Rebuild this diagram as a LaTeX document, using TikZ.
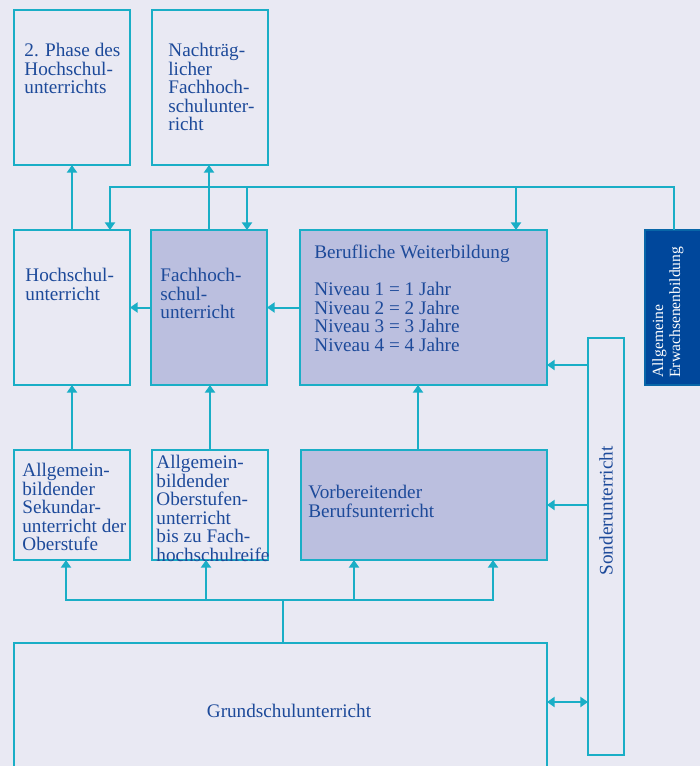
\documentclass[tikz,border=0pt]{standalone}
\usepackage{fontspec}
\setmainfont{Liberation Serif}
\usepackage{tikz}
\usetikzlibrary{positioning}
\usetikzlibrary{calc,arrows.meta}
\definecolor{bgc}{HTML}{E9E9F3}
\definecolor{linec}{HTML}{1AAEC6}
\definecolor{fillc}{HTML}{BBBFDF}
\definecolor{textc}{HTML}{1D4A9A}
\definecolor{darkc}{HTML}{00479B}
\tikzstyle{box} = [rectangle, draw=linec, line width=1pt, anchor=north west, inner sep=0pt, outer sep=0pt]
\tikzstyle{filled} = [box, fill=fillc]
\tikzstyle{txt} = [anchor=north west, align=left, text=textc, inner sep=0pt, font=\fontsize{9.6}{9.25}\selectfont]
\tikzstyle{line} = [draw=linec, line width=1pt]
\tikzstyle{arrow} = [line, -{Triangle[width=5pt,length=3.8pt]}]
\tikzstyle{dblarrow} = [line, {Triangle[width=5pt,length=3.8pt]}-{Triangle[width=5pt,length=3.8pt]}]

\begin{document}
\begin{tikzpicture}[x=0.5pt,y=-0.5pt]
			\clip (0,0) rectangle (700,766);
			\fill[bgc] (0,0) rectangle (700,766);
			% boxes
			\node (phase2) [box, minimum width=58pt, minimum height=77.5pt] at (14,10) {};
			\node (nfh) [box, minimum width=58pt, minimum height=77.5pt] at (152,10) {};
			\node (hsu) [box, minimum width=58pt, minimum height=77.5pt] at (14,230) {};
			\node (fhs) [filled, minimum width=58pt, minimum height=77.5pt] at (151,230) {};
			\node (bwb) [filled, minimum width=123.5pt, minimum height=77.5pt] at (300,230) {};
			\node (aeb) [box, fill=darkc, draw=darkc!70!linec, minimum width=29pt, minimum height=77.5pt] at (645,230) {};
			\node (asu) [box, minimum width=58pt, minimum height=55pt] at (14,450) {};
			\node (aou) [box, line width=0.75pt, minimum width=58pt, minimum height=55pt] at (152,450) {};
			\node (vbu) [filled, minimum width=123pt, minimum height=55pt] at (301,450) {};
			\node (sond) [box, minimum width=18pt, minimum height=208.5pt] at (588,338) {};
			\node (grund) [box, minimum width=266.5pt, minimum height=70pt] at (14,643) {};
			% texts
			\node (phase2-t) [txt] at (24,43) {2. Phase des\\Hochschul-\\unterrichts};
			\node (nfh-t) [txt] at (168,43) {Nachträg-\\licher\\Fachhoch-\\schulunter-\\richt};
			\node (hsu-t) [txt] at (25,268) {Hochschul-\\unterricht};
			\node (fhs-t) [txt] at (160,268) {Fachhoch-\\schul-\\unterricht};
			\node (bwb-t) [txt] at (314,245) {Berufliche Weiterbildung\\[9.25pt]Niveau 1 = 1 Jahr\\Niveau 2 = 2 Jahre\\Niveau 3 = 3 Jahre\\Niveau 4 = 4 Jahre};
			\node (aeb-t) [txt, text=white, rotate=90, font=\fontsize{7.8}{8.5}\selectfont] at (652,378) {Allgemeine\\Erwachsenenbildung};
			\node (asu-t) [txt] at (22,463) {Allgemein-\\bildender\\Sekundar-\\unterricht der\\Oberstufe};
			\node (aou-t) [txt] at (156,455) {Allgemein-\\bildender\\Oberstufen-\\unterricht\\bis zu Fach-\\hochschulreife};
			\node (vbu-t) [txt] at (308,485) {Vorbereitender\\Berufsunterricht};
			\node (sond-t) [txt, anchor=east, rotate=90] at (606,446) {Sonderunterricht};
			\node (grund-t) [txt, anchor=center] at (289,711) {Grundschulunterricht};
			% upper level
			\draw [arrow] (hsu.north) -- (phase2.south);
			\draw [arrow] (fhs.north) -- (fhs.north |- nfh.south);
			\draw [arrow] (aeb.north) |- ($(hsu.north east)+(-20,-43)$) -- ($(hsu.north east)+(-20,0)$);
			\draw [arrow] ($(fhs.north east)+(-20,-43)$) -- ($(fhs.north east)+(-20,0)$);
			\draw [arrow] ($(bwb.north east)+(-31,-43)$) -- ($(bwb.north east)+(-31,0)$);
			\draw [arrow] (fhs.west) -- (hsu.east);
			\draw [arrow] (bwb.west) -- (fhs.east);
			% special education
			\coordinate (sb) at ($(bwb.south east)+(0,-20)$);
			\draw [arrow] (sond.west |- sb) -- (sb);
			\draw [arrow] (sond.west |- vbu.east) -- (vbu.east);
			\coordinate (sg) at ($(grund.north east)+(0,59)$);
			\draw [dblarrow] (sg) -- (sond.west |- sg);
			% lower level
			\draw [arrow] (asu.north) -- (hsu.south);
			\draw [arrow] (aou.north) -- (aou.north |- fhs.south);
			\draw [arrow] ($(vbu.north)+(-6,0)$) coordinate (v1) -- (v1 |- bwb.south);
			\coordinate (verz) at ($(grund.north)+(2.5,-43)$);
			\draw [line] (verz |- grund.north) -- (verz);
			\draw [arrow] (verz) -| ($(asu.south)+(-6,0)$);
			\draw [arrow] (verz) -| ($(aou.south)+(-4,0)$);
			\draw [arrow] (verz) -| ($(vbu.south west)+(53,0)$);
			\draw [arrow] (verz) -| ($(vbu.south east)+(-54,0)$);
		\end{tikzpicture}
\end{document}
